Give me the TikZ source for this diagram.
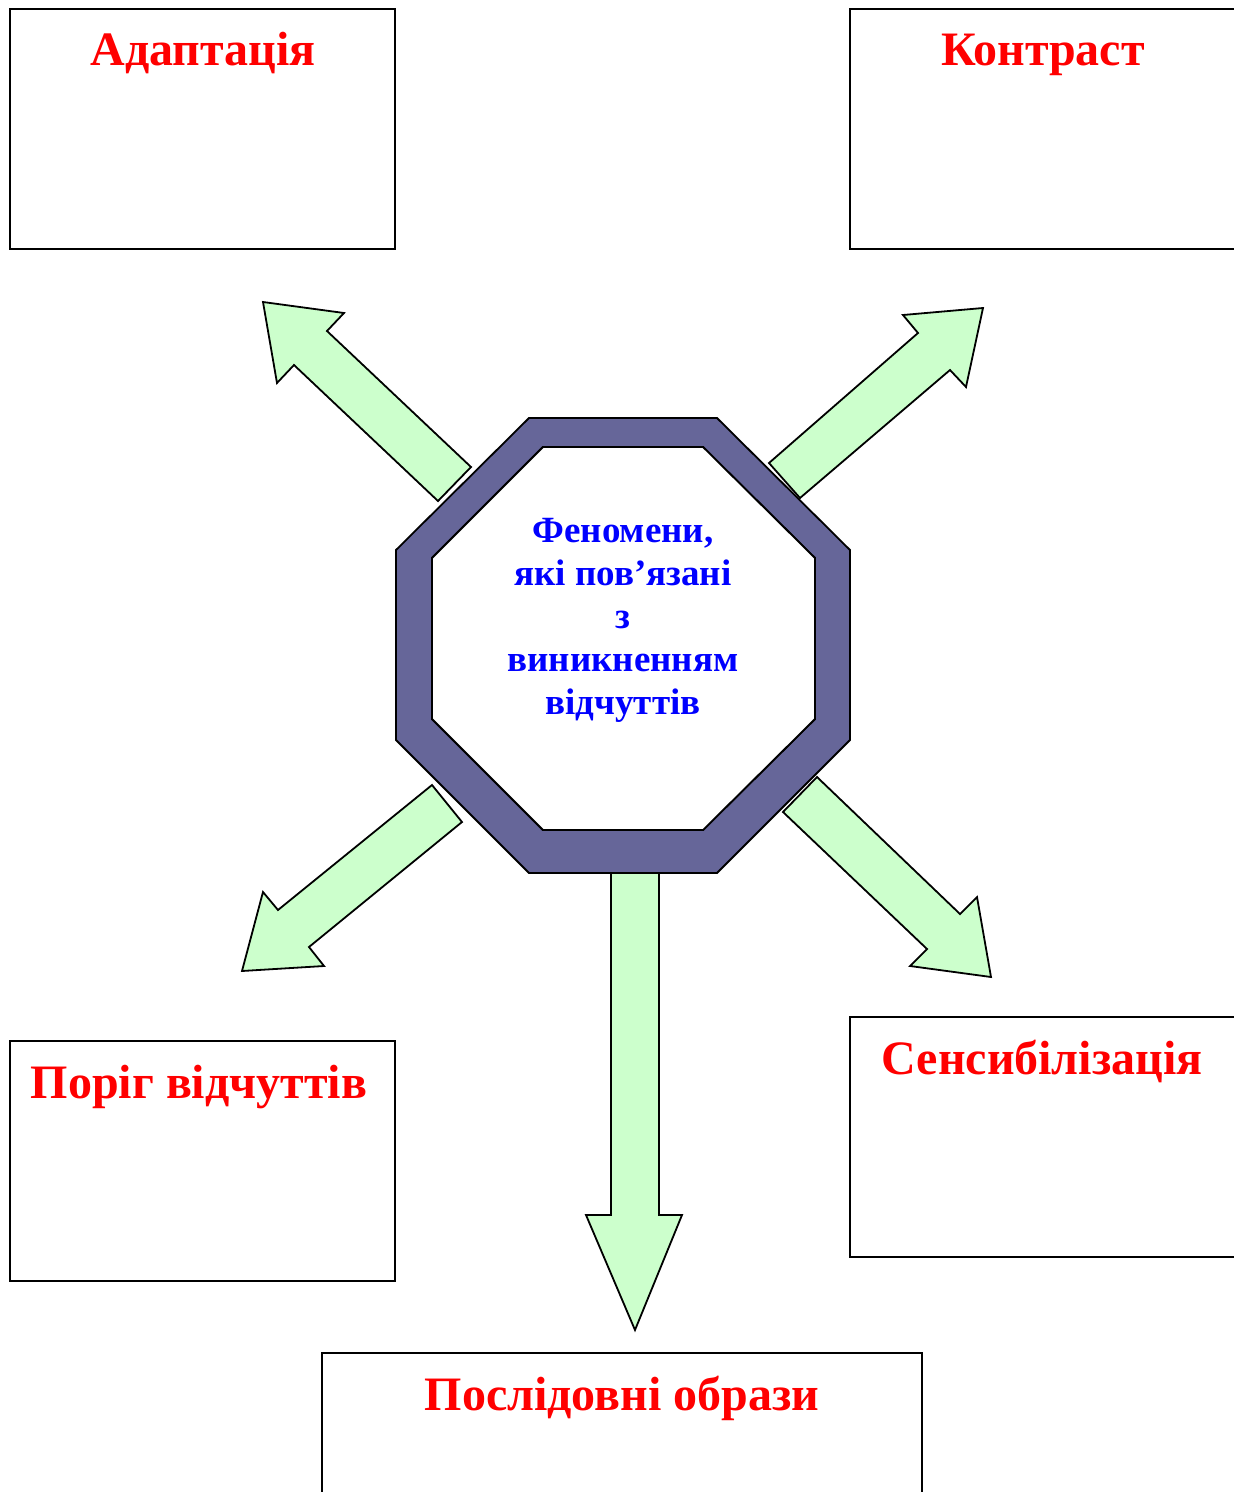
\documentclass[tikz,border=0pt]{standalone}
\usepackage{fontspec}
\setmainfont{Liberation Serif}
\definecolor{arrowgreen}{HTML}{CCFFCC}
\definecolor{ringpurple}{HTML}{666699}
\definecolor{titlered}{HTML}{FF0000}
\definecolor{centerblue}{HTML}{0000FF}
\tikzset{
  bigarrow/.style={draw=black, line width=1.8pt, fill=arrowgreen, line join=miter},
  framebox/.style={draw=black, line width=1.8pt, fill=white},
  titletext/.style={text=titlered, font=\fontsize{48}{58}\selectfont\bfseries, anchor=base, inner sep=0pt},
  centertext/.style={text=centerblue, font=\fontsize{37}{43}\selectfont\bfseries, anchor=base, inner sep=0pt},
}
\begin{document}
\begin{tikzpicture}[x=1pt,y=-1pt]
\useasboundingbox (0,0) rectangle (1234,1492);
\clip (0,0) rectangle (1234,1492);
\fill[white] (0,0) rectangle (1234,1492);

% boxes
\draw[framebox] (10,9) rectangle (395,249);
\draw[framebox] (850,9) rectangle (1240,249);
\draw[framebox] (10,1041) rectangle (395,1281);
\draw[framebox] (850,1017) rectangle (1240,1257);
\draw[framebox] (322,1353) rectangle (922,1500);

% arrows
\draw[bigarrow] (263,302) -- (344,313) -- (327,331) -- (471,467) -- (438,501) -- (294,365) -- (277,383) -- cycle;
\draw[bigarrow] (983,308) -- (903,315) -- (918,333) -- (769,463) -- (800,498) -- (950,370) -- (966,387) -- cycle;
\draw[bigarrow] (242,971) -- (324,966) -- (309,947) -- (462,822) -- (432,785) -- (278,910) -- (263,892) -- cycle;
\draw[bigarrow] (991,977) -- (910,966) -- (927,949) -- (783,812) -- (817,777) -- (960,914) -- (977,897) -- cycle;
\draw[bigarrow] (635,1330) -- (586,1215) -- (611,1215) -- (611,873) -- (659,873) -- (659,1215) -- (682,1215) -- cycle;

% octagon ring
\draw[line width=1.8pt, fill=ringpurple, even odd rule, line join=miter]
  (529,418) -- (717,418) -- (850,550) -- (850,740) -- (717,873) -- (529,873) -- (396,740) -- (396,550) -- cycle
  (543,447) -- (703,447) -- (815,558) -- (815,719) -- (703,830) -- (543,830) -- (432,719) -- (432,558) -- cycle;
\draw[line width=1.8pt, fill=white, line join=miter]
  (543,447) -- (703,447) -- (815,558) -- (815,719) -- (703,830) -- (543,830) -- (432,719) -- (432,558) -- cycle;

% center text
\node[centertext] (c1) at (623,542) {Феномени,};
\node[centertext] (c2) at (623,585) {які пов’язані};
\node[centertext] (c3) at (623,628) {з};
\node[centertext] (c4) at (623,671) {виникненням};
\node[centertext] (c5) at (623,714) {відчуттів};

% titles
\node[titletext] (adapt) at (203,65) {Адаптація};
\node[titletext] (contr) at (1043,65) {Контраст};
\node[titletext] (porig) at (199,1098) {Поріг відчуттів};
\node[titletext] (sens) at (1042,1074) {Сенсибілізація};
\node[titletext] (posl) at (622,1410) {Послідовні образи};
\end{tikzpicture}
\end{document}
